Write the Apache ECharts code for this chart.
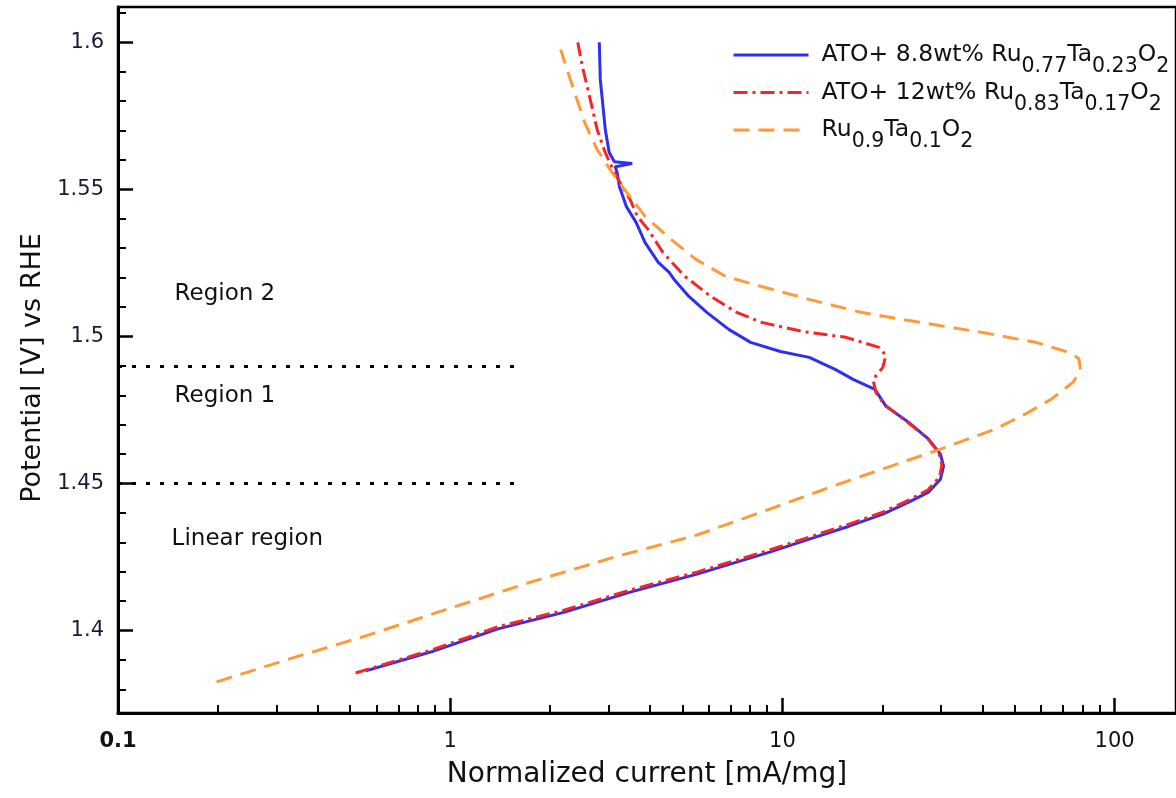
<!DOCTYPE html>
<html><head><meta charset="utf-8">
<script src="https://cdn.jsdelivr.net/npm/echarts@6/dist/echarts.min.js"></script>
<style>html,body{margin:0;padding:0;background:#fff}#c{width:1176px;height:798px}</style>
</head><body><div id="c"></div>
<script>
// ---- data ----
const seriesNames = [
  'ATO+ 8.8wt% Ru0.77Ta0.23O2',
  'ATO+ 12wt% Ru0.83Ta0.17O2',
  'Ru0.9Ta0.1O2'
];
const legendLabels = [
  '{m|ATO+ 8.8wt% Ru}{s|0.77}{m|Ta}{s|0.23}{m|O}{s|2}',
  '{m|ATO+ 12wt% Ru}{s|0.83}{m|Ta}{s|0.17}{m|O}{s|2}',
  '{m|Ru}{s|0.9}{m|Ta}{s|0.1}{m|O}{s|2}'
];
const ato88 = [[0.557,1.3863],[0.877,1.3928],[1.392,1.4006],[2.21,1.4063],[3.48,1.4131],[5.53,1.4192],[9.15,1.4267],[12.04,1.4311],[15.87,1.4355],[20.06,1.4396],[24.0,1.4437],[27.55,1.4471],[29.9,1.4515],[30.55,1.4559],[29.9,1.46],[27.55,1.4651],[24.0,1.4708],[20.48,1.4763],[18.98,1.482],[16.32,1.4854],[14.41,1.4888],[12.04,1.4929],[9.86,1.4949],[8.02,1.498],[6.89,1.5024],[5.92,1.5082],[5.23,1.5136],[4.72,1.5194],[4.56,1.5218],[4.23,1.5252],[3.86,1.5319],[3.63,1.5387],[3.39,1.5442],[3.23,1.551],[3.18,1.5557],[3.14,1.5577],[3.53,1.5588],[3.12,1.5594],[3.01,1.5625],[2.93,1.5703],[2.83,1.5873],[2.81,1.6]];
const ato12 = [[0.519,1.3856],[0.877,1.3934],[1.392,1.4013],[2.21,1.407],[3.48,1.4138],[5.53,1.4199],[9.15,1.4274],[12.04,1.4318],[15.87,1.4362],[20.06,1.4403],[24.0,1.4444],[27.4,1.4478],[29.7,1.4522],[30.2,1.4562],[29.6,1.4603],[27.3,1.4654],[23.6,1.4712],[20.2,1.477],[19.11,1.481],[18.73,1.4854],[20.06,1.4895],[20.48,1.4936],[19.52,1.4963],[15.54,1.4997],[11.48,1.5017],[8.65,1.5048],[7.28,1.5082],[6.09,1.5136],[5.09,1.5204],[4.37,1.5285],[3.94,1.5364],[3.66,1.5408],[3.48,1.5465],[3.34,1.5499],[3.12,1.5557],[2.93,1.5625],[2.77,1.5703],[2.64,1.5805],[2.5,1.5917],[2.42,1.6]];
const ruta = [[0.198,1.3826],[0.351,1.3914],[0.557,1.3982],[0.986,1.4074],[1.748,1.4165],[3.12,1.425],[5.53,1.4325],[9.15,1.4413],[14.51,1.4495],[23.03,1.4573],[29.9,1.4617],[43.7,1.4685],[53.8,1.4736],[64.3,1.4786],[74.9,1.4844],[79.0,1.4885],[78.0,1.4925],[72.8,1.4946],[58.0,1.498],[39.7,1.5014],[25.9,1.5048],[17.24,1.5082],[12.04,1.5126],[8.65,1.517],[6.75,1.5204],[5.49,1.5262],[4.62,1.533],[3.86,1.5408],[3.23,1.5523],[3.03,1.5567],[2.77,1.5635],[2.54,1.5727],[2.3,1.5873],[2.15,1.5975]];
const xMajor = [0.1, 1, 10, 100];
const xMinor = [0.2,0.3,0.4,0.5,0.6,0.7,0.8,0.9,2,3,4,5,6,7,8,9,20,30,40,50,60,70,80,90];
const yMajor = [1.4, 1.45, 1.5, 1.55, 1.6];
const yMinor = [1.38,1.39,1.41,1.42,1.43,1.44,1.46,1.47,1.48,1.49,1.51,1.52,1.53,1.54,1.56,1.57,1.58,1.59,1.61];
const regionLabels = [
  {name:'Region 2', value:[0.148,1.5143]},
  {name:'Region 1', value:[0.148,1.4797]},
  {name:'Linear region', value:[0.145,1.4311]}
];
const regionBounds = [1.49, 1.45];
const regionBoundEndX = 1.65;

// ---- chart ----
const FONT = '"DejaVu Sans", Verdana, sans-serif';
const colors = ['#2f2ff2', '#f42626', '#ff9a3a'];
const dashes = ['solid', [14,5,3,5], [16,9]];
const chart = echarts.init(document.getElementById('c'), null, {renderer:'canvas'});
const xMin = 0.1, xMax = 153, yMin = 1.372, yMax = 1.612;

const lineSeries = [ato88, ato12, ruta].map((d, i) => ({
  name: seriesNames[i], type: 'line', data: d, symbol: 'none', showSymbol: false,
  xAxisIndex: 0, yAxisIndex: 0, z: 3 + i, animation: false,
  lineStyle: {color: colors[i], width: 3, type: dashes[i]},
  itemStyle: {color: colors[i]}
}));

const annot = {
  type: 'scatter', data: regionLabels, symbolSize: 0, silent: true, animation: false,
  label: {show: true, position: 'right', distance: 0, formatter: p => p.name,
    fontFamily: FONT, fontSize: 23, color: '#111', opacity: 1},
  markLine: {
    symbol: 'none', silent: true, animation: false, label: {show: false},
    lineStyle: {color: '#000', width: 2.8, type: [4, 10], cap: 'butt'},
    data: regionBounds.map(v => [{coord:[xMin, v]}, {coord:[regionBoundEndX, v]}])
  }
};

chart.setOption({
  animation: false,
  backgroundColor: '#fff',
  textStyle: {fontFamily: FONT},
  grid: {left: 118, top: 7, width: 1064, height: 706, show: true, borderColor: '#000', borderWidth: 2.5},
  legend: {
    data: seriesNames, orient: 'vertical', left: 727, top: 38,
    itemWidth: 75, itemHeight: 14, itemGap: 3,
    itemStyle: {opacity: 0},
    lineStyle: {width: 3},
    formatter: name => legendLabels[seriesNames.indexOf(name)],
    textStyle: {fontFamily: FONT, fontSize: 23, color: '#111', padding: [0,0,0,8],
      rich: {
        m: {fontFamily: FONT, fontSize: 23.5, color: '#111', lineHeight: 36, verticalAlign: 'middle'},
        s: {fontFamily: FONT, fontSize: 20.5, color: '#111', lineHeight: 36, height: 12, verticalAlign: 'bottom'}
      }}
  },
  xAxis: [
    {type: 'log', logBase: 10, min: xMin, max: xMax, position: 'bottom',
     name: 'Normalized current [mA/mg]', nameLocation: 'middle', nameGap: 48,
     nameTextStyle: {fontFamily: FONT, fontSize: 28, color: '#111'},
     axisLine: {lineStyle: {color: '#000', width: 3}},
     axisTick: {inside: true, length: 15, lineStyle: {color: '#000', width: 2.5}, customValues: xMajor},
     axisLabel: {customValues: xMajor, margin: 18, fontFamily: FONT, fontSize: 21, color: '#111',
       formatter: v => (Math.abs(v - 0.1) < 1e-9 ? '{b|0.1}' : String(Math.round(v))),
       rich: {b: {fontFamily: FONT, fontSize: 21, fontWeight: 'bold', color: '#111'}}},
     splitLine: {show: false}},
    {type: 'log', logBase: 10, min: xMin, max: xMax, position: 'bottom',
     axisLine: {show: false}, axisLabel: {show: false}, splitLine: {show: false},
     axisTick: {inside: true, length: 8, lineStyle: {color: '#000', width: 2}, customValues: xMinor}}
  ],
  yAxis: [
    {type: 'value', min: yMin, max: yMax, position: 'left',
     name: 'Potential [V] vs RHE', nameLocation: 'middle', nameGap: 66, nameRotate: 90,
     nameTextStyle: {fontFamily: FONT, fontSize: 27, color: '#111', padding: [0,16,0,0]},
     axisLine: {show: true, lineStyle: {color: '#000', width: 3}},
     axisTick: {show: true, inside: true, length: 15, lineStyle: {color: '#000', width: 2.5}, customValues: yMajor},
     axisLabel: {customValues: yMajor, margin: 14, fontFamily: FONT, fontSize: 21, color: '#1a1a33',
       formatter: v => String(+v.toFixed(2))},
     splitLine: {show: false}},
    {type: 'value', min: yMin, max: yMax, position: 'left',
     axisLine: {show: false}, axisLabel: {show: false}, splitLine: {show: false},
     axisTick: {show: true, inside: true, length: 8, lineStyle: {color: '#000', width: 2}, customValues: yMinor}}
  ],
  series: [...lineSeries, annot]
});
</script>
</body></html>
